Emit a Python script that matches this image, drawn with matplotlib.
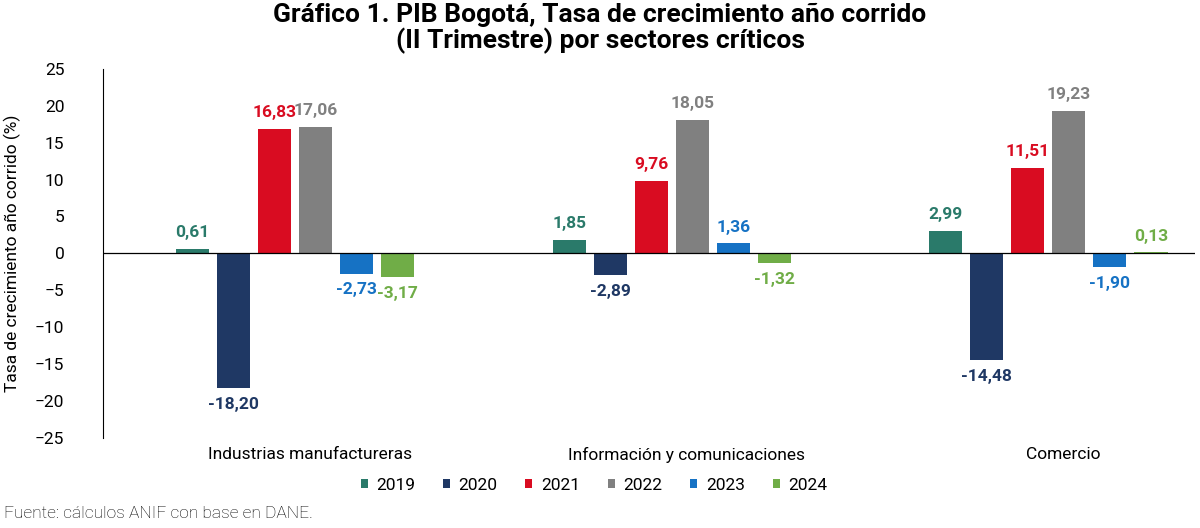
import matplotlib
matplotlib.use('Agg')
import matplotlib.pyplot as plt
import numpy as np

sectores = ['Industrias manufactureras', 'Información y comunicaciones', 'Comercio']
anios = ['2019', '2020', '2021', '2022', '2023', '2024']
v2019 = [0.61, 1.85, 2.99]
v2020 = [-18.20, -2.89, -14.48]
v2021 = [16.83, 9.76, 11.51]
v2022 = [17.06, 18.05, 19.23]
v2023 = [-2.73, 1.36, -1.90]
v2024 = [-3.17, -1.32, 0.13]
series = [v2019, v2020, v2021, v2022, v2023, v2024]
colores = ['#2a7a6a', '#1f3864', '#d90c21', '#808080', '#1672c4', '#70ad47']

plt.rcParams['font.family'] = ['Roboto', 'DejaVu Sans']
fig = plt.figure(figsize=(12, 5.28), dpi=100)
ax = fig.add_axes([0.086, 0.17, 0.91, 0.70])

x = np.arange(len(sectores))
paso = 0.109
ancho = 0.088
for i, (vals, col, an) in enumerate(zip(series, colores, anios)):
    pos = x + (i - 2.5) * paso
    ax.bar(pos, vals, width=ancho, color=col, label=an)
    for p, v in zip(pos, vals):
        txt = f'{v:.2f}'.replace('.', ',')
        off = 1.2 if v >= 0 else -1.2
        ax.text(p, v + off, txt, ha='center', va='bottom' if v >= 0 else 'top',
                color=col, fontsize=12.5, fontweight='bold')

ax.axhline(0, color='black', lw=0.9)
ax.set_xlim(-0.51, 2.39)
ax.set_ylim(-25, 25)
ax.set_yticks(range(-25, 30, 5))
ax.tick_params(axis='y', length=0, labelsize=12.5, pad=28)
ax.set_xticks(x + 0.04)
ax.set_xticklabels(sectores, fontsize=12.5)
ax.tick_params(axis='x', length=0, pad=6)
for s in ['top', 'right', 'bottom']:
    ax.spines[s].set_visible(False)
ax.spines['left'].set_color('black')
ax.set_ylabel('Tasa de crecimiento año corrido (%)', fontsize=12.5, labelpad=10)

fig.suptitle('Gráfico 1. PIB Bogotá, Tasa de crecimiento año corrido\n(II Trimestre) por sectores críticos',
             x=0.5, y=0.995, fontsize=19, fontweight='bold', linespacing=1.05)
fig.legend(loc='center', bbox_to_anchor=(0.495, 0.081), ncol=6, frameon=False,
           fontsize=12.5, handlelength=0.4, handleheight=0.4, columnspacing=1.6, handletextpad=0.5)
fig.text(0.003, 0.018, 'Fuente: cálculos ANIF con base en DANE.', fontsize=12.5, fontweight='light')
fig.savefig('out.png', dpi=100)
